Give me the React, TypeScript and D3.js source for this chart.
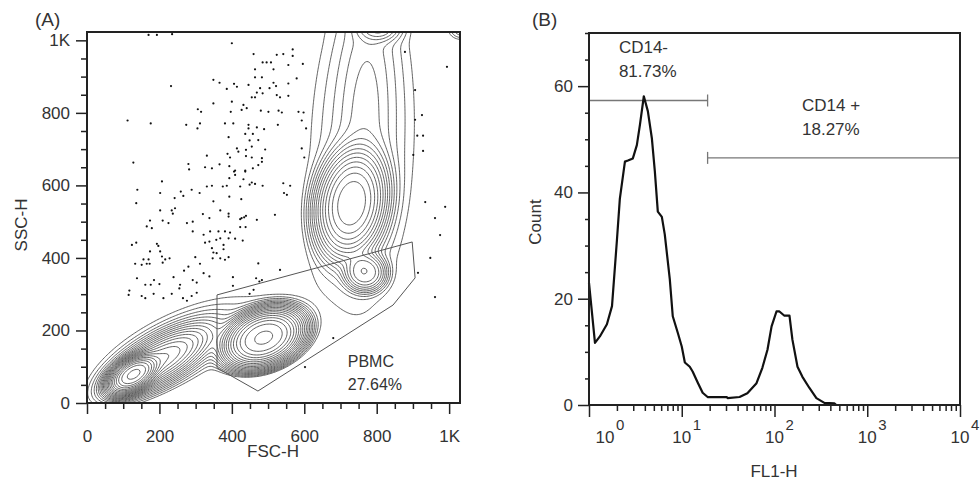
import React, { useRef, useEffect } from "react";
import * as d3 from "d3";

// ---------- Panel A: FSC-H / SSC-H contour plot ----------
const fscTicks = [0, 200, 400, 600, 800, 1000];
const fscTickLabels = ["0", "200", "400", "600", "800", "1K"];
const sscTicks = [0, 200, 400, 600, 800, 1000];
const sscTickLabels = ["0", "200", "400", "600", "800", "1K"];

// cell populations (FSC, SSC units)
const popFsc = [127, 200, 488, 730, 768, 806, 1035, 760, 770, 260, 470];
const popSsc = [78, 118, 180, 550, 360, 1035, 1030, 720, 800, 160, 1040];
const popSpreadMajor = [40, 75, 62, 80, 35, 32, 25, 380, 220, 190, 70];
const popSpreadMinor = [22, 27, 40, 50, 32, 20, 20, 120, 45, 70, 25];
const popAngle = [32, 30, 22, 80, 0, 0, 0, 88, 88, 25, 0];
const popPeak = [1.8, 0.25, 0.8, 0.3, 0.07, 0.03, 0.01, 0.009, 0.008, 0.01, 0.005];
const popShape = [1.25, 1, 1.3, 1.2, 1.3, 1, 1, 1, 1, 1, 1];

// PBMC gate vertices
const gateFsc = [359, 898, 906, 845, 472, 359];
const gateSsc = [298, 444, 345, 270, 33, 97];

// scattered single events outside the contours
const events: [number, number][] = [
  [400, 992], [460, 962], [524, 960], [542, 962], [568, 975], [485, 939], [496, 939], [508, 939],
  [464, 920], [515, 920], [556, 932], [596, 935], [464, 898], [483, 898], [568, 957], [232, 874],
  [349, 891], [366, 883], [406, 880], [414, 872], [446, 877], [386, 866], [478, 868], [504, 868],
  [522, 874], [515, 883], [556, 881], [579, 895], [469, 856], [485, 854], [455, 843], [464, 843],
  [524, 849], [533, 843], [556, 847], [400, 831], [349, 826], [432, 822], [441, 813], [427, 808],
  [306, 810], [315, 803], [397, 803], [480, 806], [501, 803], [529, 806], [538, 801], [584, 803],
  [598, 801], [112, 779], [176, 771], [274, 767], [312, 771], [305, 757], [381, 771], [404, 771],
  [446, 767], [446, 757], [469, 760], [489, 755], [527, 767], [593, 779], [605, 757], [391, 733],
  [437, 742], [458, 742], [449, 724], [473, 725], [414, 702], [418, 693], [439, 698], [455, 707],
  [492, 699], [388, 687], [395, 677], [439, 681], [455, 677], [483, 675], [483, 665], [331, 682],
  [128, 663], [280, 659], [282, 644], [326, 650], [345, 647], [366, 658], [393, 653], [409, 641],
  [409, 629], [437, 641], [458, 647], [473, 656], [593, 702], [600, 677],
  [406, 638], [437, 638], [393, 620], [432, 617], [455, 608], [449, 602], [464, 604], [485, 599],
  [542, 606], [561, 599], [207, 611], [139, 588], [202, 579], [259, 583], [289, 588], [311, 579],
  [266, 571], [331, 597], [345, 599], [375, 597], [386, 599], [423, 597], [544, 579], [552, 574],
  [136, 551], [242, 565], [349, 556], [393, 569], [426, 562], [202, 531], [234, 531], [243, 537],
  [237, 522], [320, 521], [338, 510], [368, 531], [391, 522], [391, 514], [427, 510], [434, 512],
  [439, 516], [423, 507], [469, 505], [519, 519], [174, 503], [209, 503], [165, 487], [179, 482],
  [225, 496], [276, 496], [292, 500], [292, 473], [322, 464], [340, 473], [363, 473], [381, 473],
  [395, 470], [338, 445], [326, 442], [357, 450], [368, 454], [377, 436], [391, 454], [409, 453],
  [430, 448], [423, 485], [438, 485], [124, 436], [136, 442], [193, 439], [197, 433], [174, 418],
  [202, 418], [207, 404], [216, 396], [228, 399], [156, 396], [170, 396], [133, 384], [151, 381],
  [165, 384], [173, 384], [209, 387], [299, 402], [312, 384], [345, 427], [349, 415], [358, 413],
  [347, 399], [368, 399], [381, 395], [391, 402], [377, 424], [473, 385], [533, 367], [280, 376],
  [268, 365], [322, 358], [338, 349], [239, 347], [185, 339], [138, 344], [161, 326], [176, 326],
  [200, 328], [257, 326], [255, 316], [292, 339], [303, 332], [403, 347], [403, 323], [467, 344],
  [117, 310], [115, 298], [151, 295], [161, 289], [184, 301], [211, 289], [234, 301], [265, 289],
  [276, 282], [289, 295], [303, 304], [449, 301], [460, 312], [476, 335], [483, 339],
  [994, 927], [906, 863], [925, 794], [906, 781], [912, 737], [928, 737], [928, 695], [901, 684],
  [934, 554], [961, 510], [975, 463], [989, 541], [948, 400], [961, 292], [914, 359], [878, 968],
  [170, 1015], [193, 1015], [235, 1017], [602, 99], [680, 179],
];

// ---------- Panel B: FL1-H histogram ----------
const fl1Values = [
  1.0, 1.16, 1.31, 1.56, 1.77, 2.0, 2.15, 2.44, 2.63, 2.97, 3.28, 3.54, 3.9, 4.31, 4.76, 5.13,
  5.52, 6.1, 6.56, 7.43, 8.0, 9.06, 10.0, 10.8, 12.2, 13.1, 14.9, 16.8, 19.0, 30.5, 31.2, 42,
  51, 64, 74, 84, 93, 105, 113, 128, 145, 156, 177, 200, 238, 283, 345, 442, 464, 10000,
];
const fl1Counts = [
  23, 11.7, 12.9, 15.2, 18.6, 31, 38.8, 45.8, 46, 46.4, 48.9, 52.7, 58.1, 55.3, 50.2, 43.9,
  36.4, 35.4, 32.1, 23.7, 16.7, 13.6, 11.0, 8.0, 7.2, 6.3, 4.2, 2.3, 1.5, 1.5, 1.3, 1.5,
  2.2, 4.1, 7.0, 10.4, 14.8, 17.6, 17.6, 16.8, 16.8, 12.3, 7.2, 5.3, 3.2, 1.3, 0.4, 0.3, 0, 0,
];
const fl1Decades = [1, 10, 100, 1000, 10000];
const fl1Exponents = ["0", "1", "2", "3", "4"];
const countTicks = [0, 20, 40, 60];

// marker gates: [from, to, count level]
const cd14NegGate = [1, 19, 57.3];
const cd14PosGate = [19, 10000, 46.5];

const FONT = "'Liberation Sans', Arial, Helvetica, sans-serif";
const INK = "#222";
const TEXT = "#333";

type Sel = d3.Selection<SVGSVGElement, unknown, null, undefined>;

function styleAxis(g: d3.Selection<SVGGElement, unknown, null, undefined>) {
  g.select(".domain").remove();
  g.selectAll(".tick line").attr("stroke", INK).attr("stroke-width", 1.5);
  g.selectAll(".tick text").attr("fill", TEXT).attr("font-size", 17).attr("font-family", FONT);
}

function drawContourPanel(svg: Sel) {
  const x = d3.scaleLinear().domain([0, 1030]).range([87, 460]);
  const y = d3.scaleLinear().domain([0, 1023]).range([403, 32]);
  const g = svg.append("g");

  svg.append("defs").append("clipPath").attr("id", "clipA")
    .append("rect")
    .attr("x", x(0)).attr("y", y(1023))
    .attr("width", x(1030) - x(0)).attr("height", y(0) - y(1023));

  // density grid from the populations
  const step = 4;
  const nx = Math.ceil(1030 / step) + 2;
  const ny = Math.ceil(1023 / step) + 2;
  const values = new Array(nx * ny).fill(0);
  const comps = popFsc.map((cx, k) => {
    const a = (popAngle[k] * Math.PI) / 180;
    return {
      cx, cy: popSsc[k], c: Math.cos(a), s: Math.sin(a),
      sa: popSpreadMajor[k], sb: popSpreadMinor[k], p: popPeak[k], e: popShape[k],
    };
  });
  for (let j = 0; j < ny; j++) {
    for (let i = 0; i < nx; i++) {
      const fx = i * step, fy = j * step;
      let v = 0;
      for (const cp of comps) {
        const dx = fx - cp.cx, dy = fy - cp.cy;
        const u = (dx * cp.c + dy * cp.s) / cp.sa;
        const w = (-dx * cp.s + dy * cp.c) / cp.sb;
        v += cp.p * Math.exp(-0.5 * Math.pow(u * u + w * w, cp.e));
      }
      values[j * nx + i] = v;
    }
  }
  const levels: number[] = [];
  for (let t = 0.0045; t < 2.5; t *= 1.33) levels.push(t);
  const contours = d3.contours().size([nx, ny]).thresholds(levels)(values);
  const proj = d3.geoTransform({
    point(px: number, py: number) {
      (this as any).stream.point(x((px - 0.5) * step), y((py - 0.5) * step));
    },
  });
  const path = d3.geoPath(proj);

  const plot = g.append("g").attr("clip-path", "url(#clipA)");
  plot.selectAll("path.ct")
    .data(contours)
    .join("path")
    .attr("class", "ct")
    .attr("d", path as any)
    .attr("fill", "none")
    .attr("stroke", "#3a3a3a")
    .attr("stroke-width", 0.8);

  plot.selectAll("circle.ev")
    .data(events)
    .join("circle")
    .attr("class", "ev")
    .attr("cx", (d) => x(d[0]))
    .attr("cy", (d) => y(d[1]))
    .attr("r", 1.1)
    .attr("fill", "#111");

  // PBMC gate
  const gatePts = gateFsc.map((f, i) => [x(f), y(gateSsc[i])] as [number, number]);
  plot.append("path")
    .attr("d", d3.line()(gatePts) + "Z")
    .attr("fill", "none")
    .attr("stroke", "#555")
    .attr("stroke-width", 1);

  g.append("text").attr("x", x(720)).attr("y", y(99)).attr("font-size", 16)
    .attr("font-family", FONT).attr("fill", TEXT).text("PBMC");
  g.append("text").attr("x", x(720)).attr("y", y(99) + 23).attr("font-size", 16)
    .attr("font-family", FONT).attr("fill", TEXT).text("27.64%");

  // axes
  const left = g.append("g").attr("transform", `translate(${x(0)},0)`)
    .call(d3.axisLeft(y).tickValues(sscTicks).tickSize(11).tickPadding(6).tickFormat((_, i) => sscTickLabels[i]));
  styleAxis(left);
  const leftMinor = g.append("g").attr("transform", `translate(${x(0)},0)`)
    .call(d3.axisLeft(y).tickValues(d3.range(50, 1001, 50).filter((v) => v % 200 !== 0)).tickSize(6).tickFormat(() => ""));
  styleAxis(leftMinor);

  const bottom = g.append("g").attr("transform", `translate(0,${y(0)})`)
    .call(d3.axisBottom(x).tickValues(fscTicks).tickSize(11).tickPadding(16).tickFormat((_, i) => fscTickLabels[i]));
  styleAxis(bottom);
  const bottomMinor = g.append("g").attr("transform", `translate(0,${y(0)})`)
    .call(d3.axisBottom(x).tickValues(d3.range(50, 1001, 50).filter((v) => v % 200 !== 0)).tickSize(6).tickFormat(() => ""));
  styleAxis(bottomMinor);

  g.append("rect")
    .attr("x", x(0)).attr("y", y(1023))
    .attr("width", x(1030) - x(0)).attr("height", y(0) - y(1023))
    .attr("fill", "none").attr("stroke", INK).attr("stroke-width", 2);

  g.append("text").attr("x", 273).attr("y", 457).attr("text-anchor", "middle")
    .attr("font-size", 17).attr("font-family", FONT).attr("fill", TEXT).text("FSC-H");
  g.append("text").attr("transform", "translate(27,225) rotate(-90)").attr("text-anchor", "middle")
    .attr("font-size", 17).attr("font-family", FONT).attr("fill", TEXT).text("SSC-H");
  g.append("text").attr("x", 35).attr("y", 26).attr("font-size", 19)
    .attr("font-family", FONT).attr("fill", TEXT).text("(A)");
}

function drawHistogramPanel(svg: Sel) {
  const x = d3.scaleLog().domain([1, 10000]).range([589, 960]);
  const y = d3.scaleLinear().domain([0, 70]).range([405, 33]);
  const g = svg.append("g");

  // gates
  const gates = [cd14NegGate, cd14PosGate];
  gates.forEach((gt, k) => {
    const yy = y(gt[2]);
    g.append("line").attr("x1", x(gt[0])).attr("x2", x(gt[1])).attr("y1", yy).attr("y2", yy)
      .attr("stroke", "#777").attr("stroke-width", 1.3);
    const caps = k === 0 ? [gt[1]] : [gt[0], gt[1]];
    caps.forEach((c) => {
      g.append("line").attr("x1", x(c)).attr("x2", x(c)).attr("y1", yy - 6).attr("y2", yy + 6)
        .attr("stroke", "#777").attr("stroke-width", 1.3);
    });
  });

  const line = d3.line<number>()
    .x((_, i) => x(fl1Values[i]))
    .y((d) => y(d));
  g.append("path")
    .datum(fl1Counts)
    .attr("d", line)
    .attr("fill", "none")
    .attr("stroke", "#111")
    .attr("stroke-width", 2.2)
    .attr("stroke-linejoin", "round");

  // axes
  const left = g.append("g").attr("transform", `translate(${x(1)},0)`)
    .call(d3.axisLeft(y).tickValues(countTicks).tickSize(11).tickPadding(5));
  styleAxis(left);
  const leftMinor = g.append("g").attr("transform", `translate(${x(1)},0)`)
    .call(d3.axisLeft(y).tickValues(d3.range(5, 71, 5).filter((v) => v % 20 !== 0)).tickSize(4).tickFormat(() => ""));
  styleAxis(leftMinor);

  const bottom = g.append("g").attr("transform", `translate(0,${y(0)})`)
    .call(d3.axisBottom(x).tickValues(fl1Decades).tickSize(12).tickFormat(() => ""));
  styleAxis(bottom);
  const minorVals: number[] = [];
  fl1Decades.slice(0, -1).forEach((d) => { for (let m = 2; m <= 9; m++) minorVals.push(d * m); });
  const bottomMinor = g.append("g").attr("transform", `translate(0,${y(0)})`)
    .call(d3.axisBottom(x).tickValues(minorVals).tickSize(6).tickFormat(() => ""));
  styleAxis(bottomMinor);

  fl1Decades.forEach((d, i) => {
    const tx = x(d) + (i === 0 ? 16 : 0);
    g.append("text").attr("x", tx).attr("y", 443).attr("text-anchor", "middle")
      .attr("font-size", 17).attr("font-family", FONT).attr("fill", TEXT).text("10");
    g.append("text").attr("x", tx + 11).attr("y", 430)
      .attr("font-size", 15).attr("font-family", FONT).attr("fill", TEXT).text(fl1Exponents[i]);
  });

  g.append("rect")
    .attr("x", x(1)).attr("y", y(70))
    .attr("width", x(10000) - x(1)).attr("height", y(0) - y(70))
    .attr("fill", "none").attr("stroke", INK).attr("stroke-width", 2);

  const txt = (tx: number, ty: number, s: string, size = 17, anchor = "start") =>
    g.append("text").attr("x", tx).attr("y", ty).attr("text-anchor", anchor)
      .attr("font-size", size).attr("font-family", FONT).attr("fill", TEXT).text(s);

  txt(x(2.1), 53, "CD14-");
  txt(x(2.1), 77, "81.73%");
  txt(x(198), 111, "CD14 +");
  txt(x(198), 135, "18.27%");
  txt(774, 477, "FL1-H", 17, "middle");
  g.append("text").attr("transform", "translate(541,222) rotate(-90)").attr("text-anchor", "middle")
    .attr("font-size", 17).attr("font-family", FONT).attr("fill", TEXT).text("Count");
  txt(532, 26, "(B)", 19);
}

export default function App() {
  const svgRef = useRef<SVGSVGElement>(null);

  useEffect(() => {
    document.body.style.margin = "0";
    const svg = d3.select(svgRef.current as SVGSVGElement) as Sel;
    svg.selectAll("*").remove();
    drawContourPanel(svg);
    drawHistogramPanel(svg);
  }, []);

  return (
    <svg ref={svgRef} width={980} height={483} style={{ display: "block", background: "#fff" }} />
  );
}
